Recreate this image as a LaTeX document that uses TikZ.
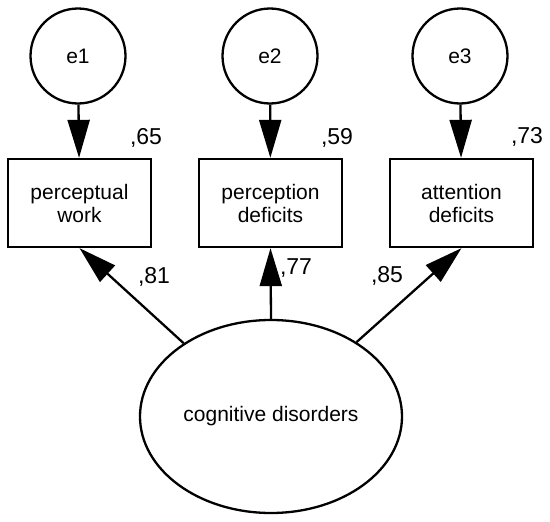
\documentclass[tikz,border=0pt]{standalone}
\usepackage{fontspec}
\setmainfont{Liberation Sans}
\usetikzlibrary{arrows.meta,shapes.geometric}
\begin{document}
\begin{tikzpicture}[x=1pt,y=-1pt,
  lw/.style={line width=2.3pt},
  errc/.style={circle,draw,lw,minimum size=95pt,inner sep=0pt,font=\fontsize{21}{23}\selectfont},
  obs/.style={rectangle,draw,lw,minimum width=143pt,minimum height=88pt,inner sep=0pt,align=center,font=\fontsize{21}{23}\selectfont},
  lat/.style={ellipse,draw,lw,minimum width=262pt,minimum height=193pt,inner sep=0pt,font=\fontsize{21}{23}\selectfont},
  arr/.style={lw,-{Triangle[length=38pt,width=22pt]}},
  lbl/.style={inner sep=0pt,font=\fontsize{23}{25}\selectfont}]
\useasboundingbox (0,0) rectangle (550,522);
\node[lbl] (l1) at (146,138) {,65};
\node[lbl] (l2) at (337,138) {,59};
\node[lbl] (l3) at (527,137) {,73};
\node[lbl] (l4) at (154,277) {,81};
\node[lbl] (l5) at (296,268) {,77};
\node[lbl] (l6) at (387,276) {,85};
\node[errc] (e1) at (78,56) {e1};
\node[errc] (e2) at (270,56) {e2};
\node[errc] (e3) at (460,56) {e3};
\node[obs] (b1) at (79.5,203) {perceptual\\work};
\node[obs] (b2) at (270.5,203) {perception\\deficits};
\node[obs] (b3) at (461.5,203) {attention\\deficits};
\node[lat] (cog) at (271,416.5) {cognitive disorders};
\draw[arr] (e1) -- (b1);
\draw[arr] (e2) -- (b2);
\draw[arr] (e3) -- (b3);
\draw[arr] (cog.140) -- (b1.south);
\draw[arr] (cog.north) -- (b2.south);
\draw[arr] (cog.41) -- (b3.south);
\end{tikzpicture}
\end{document}
